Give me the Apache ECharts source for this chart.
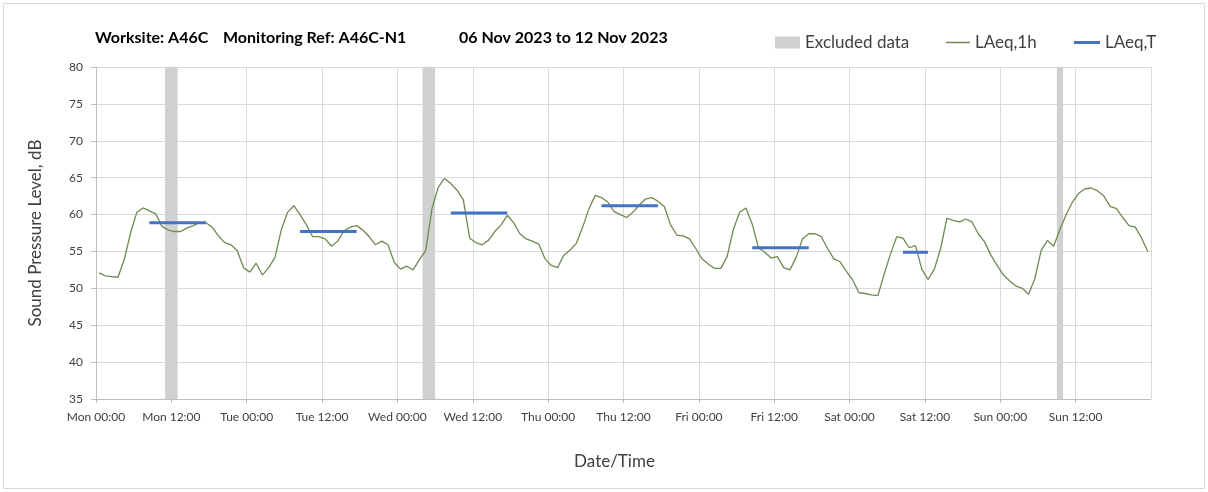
<!DOCTYPE html>
<html>
<head>
<meta charset="utf-8">
<script src="https://cdn.jsdelivr.net/npm/echarts@6/dist/echarts.min.js"></script>
<style>
html,body{margin:0;padding:0;background:#fff;}
#c{width:1208px;height:492px;}
</style>
</head>
<body>
<div id="c"></div>
<script>
// ---- data ----
const titleParts = ['Worksite: A46C', 'Monitoring Ref: A46C-N1', '06 Nov 2023 to 12 Nov 2023'];
const dayNames = ['Mon', 'Tue', 'Wed', 'Thu', 'Fri', 'Sat', 'Sun'];
// hourly LAeq,1h values, one per hour from Mon 00:00 (plotted at the middle of each hour)
const laeq1h = [
  52.1, 51.7, 51.6, 51.5, 53.9, 57.5, 60.3, 60.9, 60.5, 60.1, 58.4, 57.9, 57.7, 57.7, 58.2, 58.5, 58.9, 58.9, 58.3, 57.1, 56.2, 55.9, 55.1, 52.8,
  52.2, 53.4, 51.8, 52.8, 54.2, 57.9, 60.3, 61.2, 60.0, 58.6, 57.0, 57.0, 56.7, 55.7, 56.4, 57.8, 58.3, 58.5, 57.9, 57.0, 55.9, 56.4, 55.9, 53.5,
  52.6, 53.0, 52.5, 53.9, 55.1, 60.8, 63.7, 64.9, 64.2, 63.3, 62.0, 56.8, 56.2, 55.9, 56.5, 57.7, 58.6, 59.9, 58.9, 57.4, 56.7, 56.4, 56.0, 54.0,
  53.1, 52.8, 54.5, 55.2, 56.1, 58.3, 60.8, 62.6, 62.3, 61.7, 60.4, 60.0, 59.6, 60.3, 61.3, 62.1, 62.3, 61.8, 61.1, 58.6, 57.2, 57.1, 56.7, 55.4,
  54.0, 53.3, 52.7, 52.7, 54.3, 58.0, 60.3, 60.9, 58.7, 55.5, 54.9, 54.1, 54.3, 52.8, 52.5, 54.2, 56.7, 57.4, 57.4, 57.0, 55.4, 54.0, 53.6, 52.3,
  51.1, 49.4, 49.3, 49.1, 49.0, 51.9, 54.6, 57.0, 56.8, 55.5, 55.8, 52.6, 51.2, 52.6, 55.4, 59.5, 59.2, 59.0, 59.4, 59.0, 57.4, 56.3, 54.5, 53.1,
  51.8, 51.0, 50.3, 50.0, 49.2, 51.3, 55.1, 56.5, 55.7, 58.0, 60.0, 61.7, 62.9, 63.5, 63.6, 63.2, 62.5, 61.1, 60.8, 59.6, 58.5, 58.3, 56.8, 55.0
];
// LAeq,T periods (start hour, end hour, level)
const laeqTStart = [8, 32, 56, 80, 104, 128];
const laeqTEnd   = [18, 42, 66, 90, 114, 133];
const laeqTValue = [58.9, 57.7, 60.2, 61.2, 55.5, 54.9];
// excluded data periods (hours from Mon 00:00)
const excludedStart = [11, 52, 153];
const excludedEnd   = [13, 54, 154];
const yMin = 35, yMax = 80, yStep = 5;
const xMin = 0, xMax = 168, xStep = 12;

// ---- build ----
const lineData = laeq1h.map((v, i) => [i + 0.5, v]);
const tSeries = laeqTStart.map((s, k) => ({
  name: 'LAeq,T', type: 'line', showSymbol: false, silent: true, z: 4,
  lineStyle: { color: '#4472c4', width: 3 },
  itemStyle: { color: '#4472c4' },
  data: [[s + 0.5, laeqTValue[k]], [laeqTEnd[k] - 0.5, laeqTValue[k]]]
}));
const exclAreas = excludedStart.map((s, k) => [{ xAxis: s }, { xAxis: excludedEnd[k] }]);

const font = 'Lato, "Open Sans", sans-serif';
const titleStyle = { fontFamily: font, fontWeight: 'bold', fontSize: 16, color: '#000' };
const legendText = { fontFamily: font, fontSize: 17, color: '#404040' };
const chart = echarts.init(document.getElementById('c'), null, { renderer: 'canvas' });
chart.setOption({
  animation: false,
  backgroundColor: '#fff',
  graphic: [{
    type: 'rect', shape: { x: 3.5, y: 3.5, width: 1201, height: 485 },
    style: { fill: 'none', stroke: '#d9d9d9', lineWidth: 1 }, silent: true
  }],
  title: [
    { text: titleParts[0], left: 90, top: 25, textStyle: titleStyle },
    { text: titleParts[1], left: 218, top: 25, textStyle: titleStyle },
    { text: titleParts[2], left: 454, top: 25, textStyle: titleStyle }
  ],
  legend: [
    { data: [{ name: 'Excluded data', icon: 'rect' }], left: 770, top: 29, itemWidth: 25, itemHeight: 12, itemGap: 5,
      textStyle: legendText },
    { data: [{ name: 'LAeq,1h', icon: 'rect' }], left: 941, top: 29, itemWidth: 24, itemHeight: 1.5,
      textStyle: legendText },
    { data: [{ name: 'LAeq,T', icon: 'rect' }], left: 1069, top: 29, itemWidth: 26, itemHeight: 3,
      textStyle: legendText }
  ],
  grid: { left: 96, right: 57, top: 67, bottom: 93, containLabel: false },
  xAxis: {
    type: 'value', min: xMin, max: xMax, interval: xStep,
    name: 'Date/Time', nameLocation: 'middle', nameGap: 54,
    nameTextStyle: { fontFamily: font, fontSize: 17, color: '#404040', padding: [0, 18, 0, 0] },
    axisLine: { show: true, lineStyle: { color: '#bfbfbf' } },
    axisTick: { show: true, length: 4, lineStyle: { color: '#bfbfbf' } },
    splitLine: { show: true, lineStyle: { color: '#d9d9d9', width: 1 } },
    axisLabel: {
      fontFamily: font, fontSize: 12, color: '#404040', margin: 12, showMaxLabel: false,
      formatter: v => v >= xMax ? '' : dayNames[Math.floor(v / 24) % 7] + (v % 24 === 0 ? ' 00:00' : ' 12:00')
    }
  },
  yAxis: {
    type: 'value', min: yMin, max: yMax, interval: yStep,
    name: 'Sound Pressure Level, dB', nameLocation: 'middle', nameGap: 52, nameRotate: 90,
    nameTextStyle: { fontFamily: font, fontSize: 17, color: '#404040' },
    axisLine: { show: true, lineStyle: { color: '#bfbfbf' } },
    axisTick: { show: true, length: 5, lineStyle: { color: '#bfbfbf' } },
    splitLine: { show: true, lineStyle: { color: '#d9d9d9', width: 1 } },
    axisLabel: { fontFamily: font, fontSize: 12, color: '#404040', margin: 13 }
  },
  series: [
    {
      name: 'Excluded data', type: 'line', data: [], silent: true,
      itemStyle: { color: '#d0d0d0' },
      markArea: { silent: true, itemStyle: { color: '#d0d0d0' }, data: exclAreas }
    },
    {
      name: 'LAeq,1h', type: 'line', showSymbol: false, silent: true, z: 3,
      lineStyle: { color: '#6e8a52', width: 1.3 },
      itemStyle: { color: '#6e8a52' },
      data: lineData
    }
  ].concat(tSeries)
});
</script>
</body>
</html>
